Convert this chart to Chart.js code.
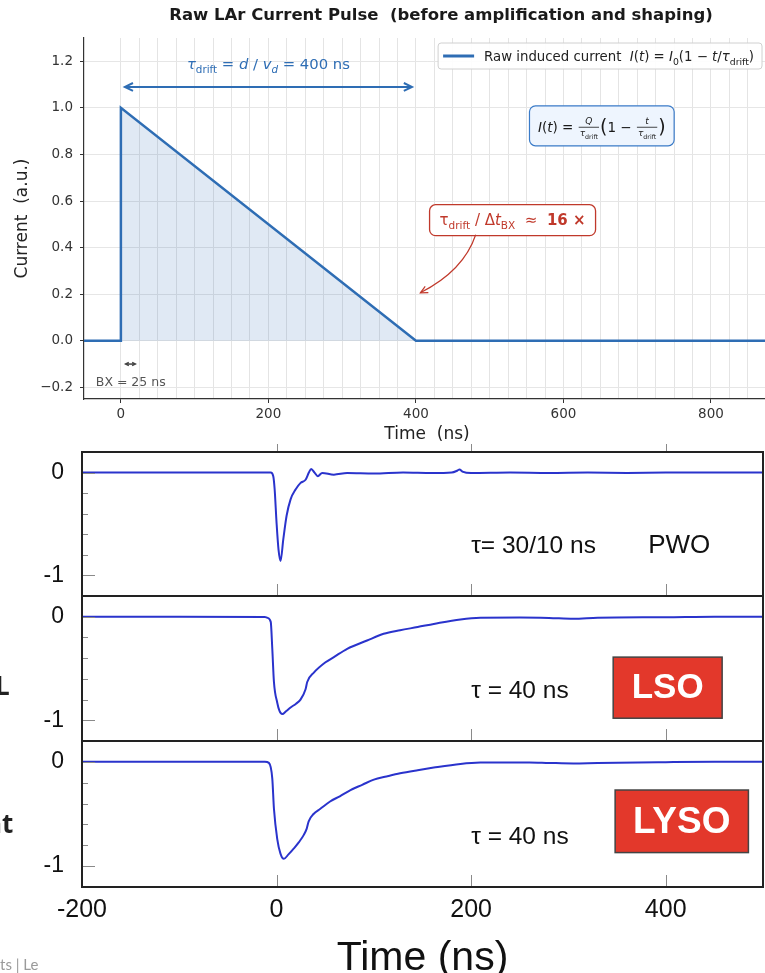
<!DOCTYPE html>
<html>
<head>
<meta charset="utf-8">
<script src="https://cdn.jsdelivr.net/npm/chart.js@4.4.1/dist/chart.umd.min.js"></script>
<style>
html, body { margin: 0; padding: 0; background: #fff; width: 765px; height: 973px; overflow: hidden; position: relative; }
canvas { position: absolute; left: 0; }
.frag { position: absolute; white-space: nowrap; line-height: 1; }
</style>
</head>
<body>
<canvas id="raw" width="770" height="445" style="top:0"></canvas>
<canvas id="pwo" width="765" height="156" style="top:440px"></canvas>
<canvas id="lso" width="765" height="151" style="top:590px"></canvas>
<canvas id="lyso" width="765" height="238" style="top:735px"></canvas>
<div class="frag" style="left:-5px;top:667px;font:700 26px 'Open Sans';color:#222">L</div>
<div class="frag" style="left:-15px;top:805px;font:700 26px 'Open Sans';color:#222">nt</div>
<div class="frag" style="left:0;top:955px;width:46px;overflow:hidden;font:15px Lato;color:#9a9a9a">ts | Le</div>
<script>
// raw LAr pulse (top plot)
let timeNs = [-50, 0, 0, 400, 880];
let current = [0, 0, 1, 0, 0];

// measured crystal pulses (bottom plots), time in ns, amplitude normalised
let pwoT = [-200, -100, -20, -6, -3.4, -2, 0, 2, 4.1, 6.9, 10.3, 14.4, 19.5, 24.7, 29.8, 33.2, 35.6, 39, 42.4, 46.9, 58.9, 72.6, 100, 130, 160, 180, 186, 188, 191, 200, 240, 280, 320, 360, 400, 450, 500];
let pwoA = [0, 0, 0, 0, -0.035, -0.16, -0.49, -0.75, -0.86, -0.65, -0.42, -0.26, -0.165, -0.1, -0.07, 0, 0.035, 0, -0.035, -0.003, -0.02, -0.005, -0.01, 0, -0.005, 0, 0.02, 0.03, 0.01, -0.005, 0, -0.004, 0, -0.003, 0, 0, 0];
let lsoT = [-200, -100, -12, -9.6, -6, -4.4, -2.7, 0.7, 3, 5.8, 10, 14.4, 20, 24.6, 29.8, 31.5, 38.3, 50.3, 58.9, 72.6, 93, 110, 127, 145, 161.6, 189, 209.5, 250, 280, 305, 330, 400, 450, 500];
let lsoA = [0, 0, -0.003, -0.01, -0.05, -0.31, -0.63, -0.83, -0.91, -0.94, -0.91, -0.876, -0.84, -0.8, -0.7, -0.63, -0.54, -0.44, -0.39, -0.31, -0.23, -0.165, -0.13, -0.1, -0.07, -0.026, -0.01, -0.008, -0.012, -0.02, -0.01, -0.005, 0, 0];
let lysoT = [-200, -100, -12, -7.9, -4.4, -2.7, 0.7, 4, 7.5, 12, 17.8, 23, 28, 31, 33, 38, 45, 55, 65, 76, 88, 100, 113, 127, 145, 161.6, 189, 209.5, 260, 280, 305, 330, 400, 450, 500];
let lysoA = [0, 0, 0, -0.01, -0.16, -0.45, -0.74, -0.88, -0.93, -0.89, -0.83, -0.77, -0.7, -0.64, -0.57, -0.5, -0.45, -0.38, -0.33, -0.27, -0.22, -0.17, -0.14, -0.11, -0.08, -0.055, -0.02, -0.007, -0.005, -0.01, -0.015, -0.01, -0.003, 0, 0];

let BLUE = "#2e6db4";
let RED = "#c0392b";
let TRACE = "#2a33cc";

function runFont(p, base) {
    let s = p.s || (p.sub ? base * 0.7 : base);
    return (p.it ? "italic " : "") + (p.b ? "bold " : "") + s + 'px "DejaVu Sans"';
}

function measureRun(ctx, parts, base) {
    let w = 0;
    parts.forEach(p => {
        ctx.font = runFont(p, base);
        p.w = ctx.measureText(p.t).width;
        w += p.w;
    });
    return w;
}

function drawRun(ctx, parts, x, y, base, align) {
    let w = measureRun(ctx, parts, base);
    let cx = align === "center" ? x - w / 2 : x;
    ctx.textAlign = "left";
    ctx.textBaseline = "alphabetic";
    parts.forEach(p => {
        ctx.font = runFont(p, base);
        ctx.fillText(p.t, cx, y + (p.sub ? base * 0.3 : 0));
        cx += p.w;
    });
    return w;
}

function arrowHead(ctx, x, y, ang, len) {
    ctx.beginPath();
    ctx.moveTo(x - len * Math.cos(ang - 0.45), y - len * Math.sin(ang - 0.45));
    ctx.lineTo(x, y);
    ctx.lineTo(x - len * Math.cos(ang + 0.45), y - len * Math.sin(ang + 0.45));
    ctx.stroke();
}

function formulaWidth(ctx, items, base, fs) {
    let total = 0;
    items.forEach(it => {
        if (it.num) {
            it.w = Math.max(measureRun(ctx, it.num, fs), measureRun(ctx, it.den, fs)) + 4;
        } else {
            ctx.font = runFont(it, base);
            it.w = ctx.measureText(it.t).width;
        }
        total += it.w;
    });
    return total;
}

let rawDecor = {
    id: "rawDecor",
    afterDatasetsDraw(chart) {
        let ctx = chart.ctx;
        let x = chart.scales.x, y = chart.scales.y;
        ctx.save();

        // title
        ctx.fillStyle = "#1a1a1a";
        ctx.font = 'bold 16.5px "DejaVu Sans"';
        ctx.textAlign = "center";
        ctx.textBaseline = "middle";
        ctx.fillText("Raw LAr Current Pulse  (before amplification and shaping)", 441, 16);

        // drift time arrow
        let ay = y.getPixelForValue(1.09);
        let ax0 = x.getPixelForValue(0) + 4, ax1 = x.getPixelForValue(400) - 4;
        ctx.strokeStyle = BLUE;
        ctx.lineWidth = 2;
        ctx.beginPath();
        ctx.moveTo(ax0, ay);
        ctx.lineTo(ax1, ay);
        ctx.stroke();
        arrowHead(ctx, ax0, ay, Math.PI, 9);
        arrowHead(ctx, ax1, ay, 0, 9);
        ctx.fillStyle = BLUE;
        drawRun(ctx, [{t: "τ", it: 1}, {t: "drift", sub: 1}, {t: " = "}, {t: "d", it: 1}, {t: " / "},
            {t: "v", it: 1}, {t: "d", it: 1, sub: 1}, {t: " = 400 ns"}],
            x.getPixelForValue(200), y.getPixelForValue(1.19) + 5, 14.8, "center");

        // formula box
        let base = 13.5, fs = 9;
        let items = [
            {t: "I", it: 1}, {t: "("}, {t: "t", it: 1}, {t: ") = "},
            {num: [{t: "Q", it: 1}], den: [{t: "τ", it: 1}, {t: "drift", sub: 1}]},
            {t: "(", s: 19}, {t: "1 − "},
            {num: [{t: "t", it: 1}], den: [{t: "τ", it: 1}, {t: "drift", sub: 1}]},
            {t: ")", s: 19}
        ];
        let fw = formulaWidth(ctx, items, base, fs);
        let fcx = x.getPixelForValue(652), fcy = y.getPixelForValue(0.923);
        ctx.fillStyle = "#eef5fe";
        ctx.strokeStyle = "#3a7bc8";
        ctx.lineWidth = 1.2;
        ctx.beginPath();
        ctx.roundRect(fcx - fw / 2 - 8.5, fcy - 20, fw + 17, 40, 6);
        ctx.fill();
        ctx.stroke();
        ctx.fillStyle = "#1a1a1a";
        let bx = fcx - fw / 2, B = fcy + 6;
        items.forEach(it => {
            if (it.num) {
                drawRun(ctx, it.num, bx + it.w / 2, B - 8, fs, "center");
                drawRun(ctx, it.den, bx + it.w / 2, B + 4, fs, "center");
                ctx.fillRect(bx + 1, B - 5, it.w - 2, 0.8);
            } else {
                ctx.font = runFont(it, base);
                ctx.textAlign = "left";
                ctx.textBaseline = "alphabetic";
                ctx.fillText(it.t, bx, B + (it.s ? 1.5 : 0));
            }
            bx += it.w;
        });

        // ratio box
        let ratio = [{t: "τ"}, {t: "drift", sub: 1}, {t: " / Δ"}, {t: "t", it: 1}, {t: "BX", sub: 1},
            {t: "  ≈  "}, {t: "16 ×", b: 1}];
        let rw = measureRun(ctx, ratio, 15);
        let rcx = x.getPixelForValue(531), rcy = y.getPixelForValue(0.52);
        ctx.fillStyle = "#fff";
        ctx.strokeStyle = RED;
        ctx.lineWidth = 1.3;
        ctx.beginPath();
        ctx.roundRect(rcx - rw / 2 - 10, rcy - 15, rw + 20, 31, 6);
        ctx.fill();
        ctx.stroke();
        ctx.fillStyle = RED;
        drawRun(ctx, ratio, rcx, rcy + 5, 15, "center");

        // curved arrow to the end of the pulse
        let sx = x.getPixelForValue(481), sy = y.getPixelForValue(0.455);
        let ex = x.getPixelForValue(406), ey = y.getPixelForValue(0.206);
        let cx = sx - 12, cy = sy + 36;
        ctx.strokeStyle = RED;
        ctx.lineWidth = 1.2;
        ctx.beginPath();
        ctx.moveTo(sx, sy);
        ctx.quadraticCurveTo(cx, cy, ex, ey);
        ctx.stroke();
        arrowHead(ctx, ex, ey, Math.atan2(ey - cy, ex - cx), 8);

        // bunch crossing marker
        let by = y.getPixelForValue(-0.1);
        let b0 = x.getPixelForValue(6.5), b1 = x.getPixelForValue(19.5);
        ctx.strokeStyle = "#444";
        ctx.lineWidth = 1.5;
        ctx.beginPath();
        ctx.moveTo(b0, by);
        ctx.lineTo(b1, by);
        ctx.stroke();
        arrowHead(ctx, b0, by, Math.PI, 3.5);
        arrowHead(ctx, b1, by, 0, 3.5);
        ctx.fillStyle = "#555";
        ctx.font = '12.5px "DejaVu Sans"';
        ctx.textAlign = "left";
        ctx.textBaseline = "middle";
        ctx.fillText("BX = 25 ns", x.getPixelForValue(-34), y.getPixelForValue(-0.18));

        // legend
        let leg = [{t: "Raw induced current  "}, {t: "I", it: 1}, {t: "("}, {t: "t", it: 1}, {t: ") = "},
            {t: "I", it: 1}, {t: "0", sub: 1}, {t: "(1 − "}, {t: "t", it: 1}, {t: "/"}, {t: "τ", it: 1},
            {t: "drift", sub: 1}, {t: ")"}];
        let lw = measureRun(ctx, leg, 13.3);
        let lright = 762, ltop = 43;
        let lleft = lright - (46 + lw + 8);
        ctx.fillStyle = "rgba(255,255,255,0.9)";
        ctx.strokeStyle = "#d0d0d0";
        ctx.lineWidth = 1;
        ctx.beginPath();
        ctx.roundRect(lleft, ltop, lright - lleft, 26, 3);
        ctx.fill();
        ctx.stroke();
        ctx.strokeStyle = BLUE;
        ctx.lineWidth = 3;
        ctx.beginPath();
        ctx.moveTo(lleft + 5, ltop + 13);
        ctx.lineTo(lleft + 36, ltop + 13);
        ctx.stroke();
        ctx.fillStyle = "#222";
        drawRun(ctx, leg, lleft + 46, ltop + 18, 13.3, "left");

        ctx.restore();
    }
};

new Chart(document.getElementById("raw"), {
    type: "line",
    data: {
        datasets: [{
            data: timeNs.map((t, i) => ({x: t, y: current[i]})),
            borderColor: BLUE,
            borderWidth: 2.5,
            backgroundColor: "rgba(46,109,180,0.15)",
            fill: "origin",
            pointRadius: 0,
            tension: 0
        }]
    },
    options: {
        responsive: false,
        animation: false,
        devicePixelRatio: 1,
        layout: {padding: {top: 38, right: 0, left: 0, bottom: 0}},
        plugins: {legend: {display: false}, tooltip: {enabled: false}},
        scales: {
            x: {
                type: "linear",
                min: -50,
                max: 880,
                afterFit: s => { s.height = 46; s.paddingLeft = 0; s.paddingRight = 0; },
                ticks: {
                    stepSize: 25, includeBounds: false, autoSkip: false, maxRotation: 0, maxTicksLimit: 100,
                    padding: 3, color: "#333", font: {family: "DejaVu Sans", size: 13.5},
                    callback: v => (v >= 0 && v % 200 === 0) ? String(v) : ""
                },
                grid: {
                    color: c => (c.tick && c.tick.value >= 0) ? "#e4e4e4" : "rgba(0,0,0,0)",
                    tickColor: c => (c.tick && c.tick.value >= 0 && c.tick.value % 200 === 0) ? "#333" : "rgba(0,0,0,0)",
                    tickLength: 4
                },
                border: {color: "#333", width: 1.2},
                title: {display: true, text: "Time  (ns)", color: "#222", font: {family: "DejaVu Sans", size: 17}, padding: {top: 0, bottom: 0}}
            },
            y: {
                min: -0.25,
                max: 1.3,
                afterFit: s => { s.width = 84; s.paddingTop = 0; s.paddingBottom = 0; },
                ticks: {
                    stepSize: 0.2, includeBounds: false, autoSkip: false, padding: 7, color: "#333",
                    font: {family: "DejaVu Sans", size: 13.5},
                    callback: v => (v < -1e-9 ? "−" : "") + Math.abs(v).toFixed(1)
                },
                grid: {color: "#e6e6e6", tickColor: "#333", tickLength: 4},
                border: {color: "#333", width: 1.2},
                title: {display: true, text: "Current  (a.u.)", color: "#222", font: {family: "DejaVu Sans", size: 17}, padding: {top: 12, bottom: 0}}
            }
        }
    },
    plugins: [rawDecor]
});

let panelDecor = {
    id: "panelDecor",
    afterDatasetsDraw(chart, args, opts) {
        let ctx = chart.ctx, a = chart.chartArea;
        let x = chart.scales.x, y = chart.scales.y;
        ctx.save();

        // inner tick marks
        ctx.strokeStyle = "#8a8a8a";
        ctx.lineWidth = 1;
        y.ticks.forEach(t => {
            if (t.value > 0.05 || t.value < -1.05) return;
            let major = Math.abs(t.value) < 1e-6 || Math.abs(t.value + 1) < 1e-6;
            let py = Math.round(y.getPixelForValue(t.value)) + 0.5;
            ctx.beginPath();
            ctx.moveTo(a.left, py);
            ctx.lineTo(a.left + (major ? 13 : 6), py);
            ctx.stroke();
        });
        x.ticks.forEach(t => {
            if (t.value <= -200) return;
            let px = Math.round(x.getPixelForValue(t.value)) + 0.5;
            ctx.beginPath();
            ctx.moveTo(px, a.bottom);
            ctx.lineTo(px, a.bottom - 12);
            ctx.stroke();
            if (opts.stub) {
                ctx.beginPath();
                ctx.moveTo(px, a.top);
                ctx.lineTo(px, a.top - 8);
                ctx.stroke();
            }
        });

        // frame
        ctx.strokeStyle = "#222";
        ctx.lineWidth = 2;
        ctx.strokeRect(a.left, a.top, a.right - a.left, a.bottom - a.top);

        // labels
        ctx.fillStyle = "#111";
        ctx.textAlign = "left";
        ctx.textBaseline = "middle";
        ctx.font = '24.5px "Liberation Sans"';
        ctx.fillText(opts.tau, x.getPixelForValue(200), y.getPixelForValue(-0.72));
        if (opts.box) {
            let b = opts.box;
            let l = x.getPixelForValue(b[0]), r = x.getPixelForValue(b[1]);
            let t = y.getPixelForValue(b[2]), btm = y.getPixelForValue(b[3]);
            ctx.fillStyle = "#e3382b";
            ctx.fillRect(l, t, r - l, btm - t);
            ctx.strokeStyle = "#444";
            ctx.lineWidth = 1.5;
            ctx.strokeRect(l, t, r - l, btm - t);
            ctx.fillStyle = "#fff";
            ctx.font = "bold " + opts.size + 'px "Liberation Sans"';
            ctx.textAlign = "center";
            ctx.fillText(opts.name, (l + r) / 2, (t + btm) / 2 + 1);
        } else {
            ctx.font = opts.size + 'px "Liberation Sans"';
            ctx.fillText(opts.name, x.getPixelForValue(382), y.getPixelForValue(-0.71));
        }
        ctx.restore();
    }
};

function panel(id, t, amp, padTop, last, deco) {
    return new Chart(document.getElementById(id), {
        type: "line",
        data: {
            datasets: [{
                data: t.map((v, i) => ({x: v, y: amp[i]})),
                borderColor: TRACE,
                borderWidth: 2,
                pointRadius: 0,
                cubicInterpolationMode: "monotone",
                fill: false
            }]
        },
        options: {
            responsive: false,
            animation: false,
            devicePixelRatio: 1,
            layout: {padding: {top: padTop, right: 2, left: 0, bottom: 0}},
            plugins: {legend: {display: false}, tooltip: {enabled: false}, panelDecor: deco},
            scales: {
                x: {
                    type: "linear",
                    min: -200,
                    max: 500,
                    afterFit: s => { s.height = last ? 86 : 0; s.paddingLeft = 0; s.paddingRight = 0; },
                    ticks: {
                        display: last, stepSize: 200, includeBounds: false, autoSkip: false, maxRotation: 0,
                        padding: 0, color: "#111", font: {family: "Liberation Sans", size: 25}
                    },
                    grid: {display: false},
                    border: {display: false},
                    title: {
                        display: last, text: "Time (ns)", color: "#111",
                        font: {family: "Liberation Sans", size: 41, lineHeight: 0.7}, padding: {top: 0, bottom: 0}
                    }
                },
                y: {
                    min: -1.2,
                    max: 0.2,
                    afterFit: s => { s.width = 82; s.paddingTop = 0; s.paddingBottom = 0; },
                    ticks: {
                        stepSize: 0.2, includeBounds: false, autoSkip: false, padding: 10, color: "#111",
                        font: {family: "Liberation Sans", size: 23},
                        callback: v => Math.abs(v) < 1e-6 ? "0" : (Math.abs(v + 1) < 1e-6 ? "-1" : "")
                    },
                    grid: {display: false},
                    border: {display: false}
                }
            }
        },
        plugins: [panelDecor]
    });
}

panel("pwo", pwoT, pwoA, 12, false, {tau: "τ= 30/10 ns", name: "PWO", size: 26, stub: true});
panel("lso", lsoT, lsoA, 6, false, {tau: "τ = 40 ns", name: "LSO", size: 35, box: [346, 458, -0.39, -0.98]});
panel("lyso", lysoT, lysoA, 6, true, {tau: "τ = 40 ns", name: "LYSO", size: 37, box: [348, 485, -0.27, -0.87]});
</script>
</body>
</html>
